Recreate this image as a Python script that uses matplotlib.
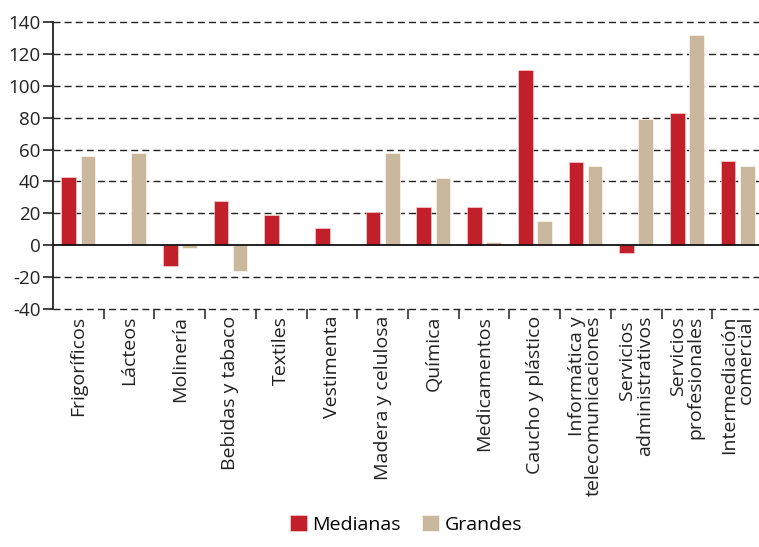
import matplotlib.pyplot as plt
import numpy as np

plt.rcParams['font.family'] = ['Open Sans', 'DejaVu Sans']
plt.rcParams['axes.unicode_minus'] = False

categorias = ['Frigoríficos', 'Lácteos', 'Molinería', 'Bebidas y tabaco', 'Textiles',
              'Vestimenta', 'Madera y celulosa', 'Química', 'Medicamentos',
              'Caucho y plástico', 'Informática y\ntelecomunicaciones',
              'Servicios \nadministrativos', 'Servicios\nprofesionales',
              'Intermediación\ncomercial']
medianas = [43, 0, -13, 28, 19, 11, 21, 24, 24, 110, 52, -5, 83, 53]
grandes = [56, 58, -1.5, -16, 0, 0, 58, 42, 2, 15, 50, 79, 132, 50]

ROJO = '#C1202A'
BEIGE = '#C9B89D'

fig = plt.figure(figsize=(7.59, 5.47), dpi=100)
# el eje se sale un poco por la derecha, como en el original
ax = fig.add_axes([53/759, 1-309/547, (763-53)/759, (309-22)/547])

x = np.arange(len(categorias))
w = 0.29
ax.bar(x - 0.19, medianas, w, color=ROJO, edgecolor=(1, 0.85, 0.85, 0.7), linewidth=0.6, label='Medianas', zorder=3)
ax.bar(x + 0.19, grandes, w, color=BEIGE, edgecolor=(1, 0.97, 0.92, 0.8), linewidth=0.6, label='Grandes', zorder=3)

ax.set_xlim(-0.5, len(categorias) - 0.5)
ax.set_ylim(-40, 140)
ax.set_yticks(np.arange(-40, 141, 20))

# grilla punteada, linea solida en cero
for v in np.arange(-40, 141, 20):
    if v == 0:
        ax.axhline(0, color='#111111', lw=1.3, zorder=4)
    else:
        ax.axhline(v, color='#222222', lw=1.0, ls=(0, (5, 3)), zorder=1, clip_on=False)

for s in ['top', 'right', 'bottom']:
    ax.spines[s].set_visible(False)
ax.spines['left'].set_linewidth(1.3)
ax.spines['left'].set_color('#222222')

ax.tick_params(axis='y', labelsize=13.5, length=7, width=1.2, color='#222222', labelcolor='#222222', pad=2)
ax.set_xticks(x)
ax.set_xticklabels(categorias, rotation=90, ha='center', va='top', multialignment='right',
                   fontsize=14, linespacing=0.95)
ax.tick_params(axis='x', length=0, pad=5, labelcolor='#222222')
ax.set_xticks(np.arange(0.5, len(categorias) - 0.5, 1), minor=True)
ax.tick_params(axis='x', which='minor', length=7, width=1.1, color='#222222', direction='out')

fig.legend(loc='lower center', bbox_to_anchor=(0.535, -0.008), ncol=2, frameon=False,
           fontsize=14, handlelength=0.85, handleheight=0.85, handletextpad=0.3, columnspacing=1.1)

fig.savefig('out.png', dpi=100)
